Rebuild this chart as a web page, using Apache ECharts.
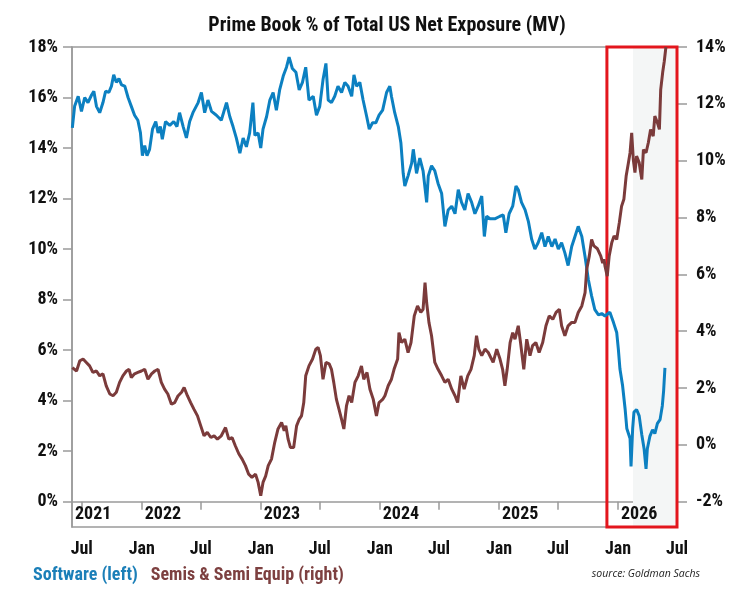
<!DOCTYPE html>
<html lang="en">
<head>
  <meta charset="utf-8">
  <title>Prime Book % of Total US Net Exposure (MV)</title>
  <script src="https://cdn.jsdelivr.net/npm/echarts@6/dist/echarts.min.js"></script>
  <style>
    * { margin: 0; padding: 0; }
    html, body { background: #fff; }
    #chart { width: 744px; height: 590px; overflow: hidden; }
  </style>
</head>
<body>
<div id="chart"></div>
<script>
  // Software (left axis, %)
  var swDates = [
    '2021-06-02','2021-06-09','2021-06-20','2021-06-30','2021-07-10','2021-07-20','2021-07-31','2021-08-07','2021-08-15','2021-08-25',
    '2021-09-04','2021-09-12','2021-09-22','2021-09-30','2021-10-07','2021-10-15','2021-10-23','2021-10-31','2021-11-10','2021-11-20',
    '2021-11-30','2021-12-10','2021-12-20','2021-12-28','2022-01-03','2022-01-10','2022-01-17','2022-01-25','2022-02-03','2022-02-13',
    '2022-02-20','2022-02-27','2022-03-05','2022-03-15','2022-03-28','2022-04-09','2022-04-19','2022-04-27','2022-05-08','2022-05-18',
    '2022-05-28','2022-06-07','2022-06-23','2022-07-03','2022-07-13','2022-07-23','2022-08-03','2022-08-18','2022-09-02','2022-09-18',
    '2022-09-28','2022-10-08','2022-10-18','2022-10-29','2022-11-08','2022-11-18','2022-11-28','2022-12-08','2022-12-14','2022-12-24',
    '2023-01-01','2023-01-08','2023-01-19','2023-01-29','2023-02-08','2023-02-18','2023-02-28','2023-03-11','2023-03-21','2023-03-29',
    '2023-04-08','2023-04-19','2023-04-29','2023-05-09','2023-05-19','2023-05-29','2023-06-11','2023-06-21','2023-07-01','2023-07-11',
    '2023-07-20','2023-07-27','2023-08-06','2023-08-16','2023-08-26','2023-09-06','2023-09-16','2023-09-26','2023-10-07','2023-10-14',
    '2023-10-22','2023-11-01','2023-11-11','2023-11-22','2023-11-30','2023-12-10','2023-12-20','2023-12-30','2024-01-10','2024-01-22',
    '2024-02-01','2024-02-06','2024-02-16','2024-02-27','2024-03-06','2024-03-13','2024-03-18','2024-03-28','2024-04-08','2024-04-13',
    '2024-04-23','2024-05-03','2024-05-13','2024-05-24','2024-05-29','2024-06-08','2024-06-18','2024-06-28','2024-07-09','2024-07-19',
    '2024-07-29','2024-08-09','2024-08-19','2024-08-29','2024-09-08','2024-09-18','2024-09-28','2024-10-09','2024-10-19','2024-10-29',
    '2024-11-09','2024-11-17','2024-11-24','2024-12-04','2024-12-19','2025-01-04','2025-01-14','2025-01-22','2025-02-01','2025-02-12',
    '2025-02-22','2025-03-01','2025-03-11','2025-03-22','2025-04-01','2025-04-11','2025-04-21','2025-05-01','2025-05-12','2025-05-22',
    '2025-06-01','2025-06-12','2025-06-22','2025-07-02','2025-07-12','2025-07-22','2025-08-01','2025-08-12','2025-08-22','2025-09-01',
    '2025-09-12','2025-09-22','2025-10-02','2025-10-12','2025-10-22','2025-11-02','2025-11-12','2025-11-22','2025-11-27','2025-12-07',
    '2025-12-18','2025-12-28','2026-01-02','2026-01-07','2026-01-15','2026-01-23','2026-01-28','2026-02-02','2026-02-07','2026-02-10',
    '2026-02-15','2026-02-19','2026-02-27','2026-03-07','2026-03-15','2026-03-22','2026-03-28','2026-04-01','2026-04-09','2026-04-17',
    '2026-04-24','2026-05-02','2026-05-10','2026-05-17','2026-05-21','2026-05-25'
  ];
  var swValues = [
    14.8, 15.65, 16.05, 15.45, 16.0, 15.8, 16.1, 16.25, 15.65, 15.4,
    15.8, 16.25, 16.2, 16.45, 16.9, 16.6, 16.75, 16.5, 16.45, 16.0,
    15.65, 15.3, 15.1, 14.6, 13.7, 14.1, 13.7, 13.95, 14.75, 15.05,
    14.6, 14.85, 14.35, 15.05, 14.9, 15.05, 14.85, 15.4, 14.85, 14.4,
    15.05, 15.4, 15.8, 16.2, 15.4, 15.9, 15.45, 15.3, 15.1, 15.8,
    15.25, 14.85, 14.4, 13.8, 14.4, 14.05, 14.6, 15.8, 14.5, 14.6,
    14.0, 14.75, 15.25, 15.9, 16.2, 15.5, 16.3, 16.85, 17.2, 17.6,
    17.15, 17.0, 16.3, 16.6, 17.2, 15.9, 16.05, 15.3, 15.65, 16.7,
    17.35, 15.9, 15.8, 16.05, 16.45, 16.2, 16.6, 16.45, 16.05, 16.9,
    16.45, 16.6, 15.9, 15.25, 14.75, 15.0, 15.0, 15.3, 15.5, 16.2,
    16.45, 16.05, 15.4, 14.85, 14.2, 13.0, 12.5, 12.9, 13.4, 13.95,
    13.0, 13.6, 13.1, 11.85, 12.9, 13.3, 13.1, 12.6, 12.2, 10.9,
    11.55, 11.7, 11.4, 12.35, 11.85, 11.55, 12.2, 11.85, 11.4, 11.7,
    12.1, 10.5, 11.3, 11.2, 11.2, 11.3, 11.35, 10.65, 11.4, 11.7,
    12.5, 12.35, 11.85, 11.55, 11.1, 10.4, 10.0, 10.25, 10.65, 10.1,
    10.5, 10.1, 10.4, 10.0, 10.25, 9.85, 9.35, 10.1, 10.5, 10.9,
    10.5, 9.7, 8.8, 8.15, 7.6, 7.4, 7.45, 7.35, 7.3, 7.5,
    7.1, 6.7, 6.05, 5.25, 4.6, 3.65, 2.9, 2.95, 2.5, 1.4,
    2.9, 3.55, 3.65, 3.4, 2.65, 2.1, 1.3, 2.1, 2.6, 2.85,
    2.7, 3.1, 3.25, 3.8, 4.4, 5.3
  ];

  // Semis & Semi Equip (right axis, %)
  var semiDates = [
    '2021-06-02','2021-06-15','2021-06-25','2021-07-05','2021-07-15','2021-07-25','2021-08-04','2021-08-15','2021-08-25','2021-09-04',
    '2021-09-14','2021-09-25','2021-10-05','2021-10-15','2021-10-25','2021-11-04','2021-11-15','2021-11-23','2021-11-30','2021-12-10',
    '2021-12-20','2021-12-31','2022-01-10','2022-01-20','2022-01-31','2022-02-10','2022-02-20','2022-03-02','2022-03-12','2022-03-22',
    '2022-04-02','2022-04-12','2022-04-22','2022-05-03','2022-05-11','2022-05-21','2022-05-31','2022-06-10','2022-06-21','2022-07-01',
    '2022-07-11','2022-07-21','2022-08-01','2022-08-11','2022-08-21','2022-09-02','2022-09-15','2022-09-25','2022-10-05','2022-10-15',
    '2022-10-26','2022-11-05','2022-11-15','2022-11-25','2022-12-05','2022-12-16','2022-12-24','2023-01-01','2023-01-08','2023-01-16',
    '2023-01-24','2023-02-03','2023-02-13','2023-02-23','2023-03-06','2023-03-14','2023-03-19','2023-03-26','2023-04-02','2023-04-12',
    '2023-04-21','2023-04-29','2023-05-06','2023-05-13','2023-05-19','2023-05-29','2023-06-09','2023-06-19','2023-06-26','2023-07-03',
    '2023-07-11','2023-07-20','2023-07-30','2023-08-06','2023-08-13','2023-08-21','2023-08-29','2023-09-06','2023-09-13','2023-09-21',
    '2023-09-29','2023-10-07','2023-10-17','2023-10-27','2023-11-06','2023-11-13','2023-11-23','2023-12-02','2023-12-12','2023-12-22',
    '2023-12-30','2024-01-10','2024-01-17','2024-01-27','2024-02-06','2024-02-14','2024-02-25','2024-02-29','2024-03-08','2024-03-18',
    '2024-03-28','2024-04-06','2024-04-16','2024-04-26','2024-05-06','2024-05-13','2024-05-19','2024-05-24','2024-05-31','2024-06-08',
    '2024-06-18','2024-06-28','2024-07-09','2024-07-19','2024-07-29','2024-08-09','2024-08-19','2024-08-27','2024-09-06','2024-09-16',
    '2024-09-27','2024-10-07','2024-10-17','2024-10-24','2024-10-31','2024-11-09','2024-11-19','2024-11-29','2024-12-09','2024-12-14',
    '2024-12-25','2025-01-04','2025-01-12','2025-01-19','2025-01-26','2025-02-04','2025-02-12','2025-02-19','2025-03-01','2025-03-08',
    '2025-03-18','2025-03-27','2025-04-06','2025-04-14','2025-04-24','2025-05-04','2025-05-15','2025-05-25','2025-06-04','2025-06-15',
    '2025-06-25','2025-07-05','2025-07-12','2025-07-22','2025-08-01','2025-08-12','2025-08-22','2025-09-01','2025-09-12','2025-09-22',
    '2025-09-27','2025-10-05','2025-10-12','2025-10-19','2025-10-30','2025-11-09','2025-11-15','2025-11-19','2025-11-22','2025-11-29',
    '2025-12-05','2025-12-13','2025-12-20','2025-12-28','2026-01-05','2026-01-12','2026-01-19','2026-01-26','2026-02-02','2026-02-07',
    '2026-02-12','2026-02-17','2026-02-22','2026-02-27','2026-03-07','2026-03-15','2026-03-20','2026-03-28','2026-04-04','2026-04-11',
    '2026-04-19','2026-04-24','2026-05-02','2026-05-08','2026-05-12','2026-05-18','2026-05-23','2026-05-28'
  ];
  var semiValues = [
    2.72, 2.6, 2.96, 3.02, 2.9, 2.78, 2.55, 2.6, 2.43, 2.5,
    2.08, 1.79, 1.73, 1.85, 2.2, 2.43, 2.6, 2.66, 2.37, 2.5,
    2.55, 2.6, 2.66, 2.31, 2.5, 2.6, 2.66, 2.2, 1.96, 1.79,
    1.43, 1.49, 1.72, 1.85, 2.02, 1.73, 1.49, 1.26, 1.02, 0.67,
    0.32, 0.44, 0.26, 0.32, 0.2, 0.32, 0.61, 0.2, 0.26, -0.03,
    -0.32, -0.5, -0.73, -1.03, -1.14, -1.03, -1.32, -1.79, -1.32, -1.1,
    -0.73, -0.5, 0.09, 0.56, 0.79, 0.5, 0.67, 0.2, -0.09, -0.09,
    0.67, 0.9, 1.02, 1.49, 2.43, 2.78, 3.02, 3.37, 3.43, 3.14,
    2.31, 2.9, 2.85, 2.66, 2.2, 1.61, 1.26, 0.9, 0.56, 1.37,
    1.73, 1.49, 2.2, 2.43, 2.78, 2.31, 2.55, 1.96, 1.61, 1.02,
    1.49, 1.6, 1.73, 2.08, 2.31, 2.66, 3.02, 3.95, 3.6, 3.72,
    3.25, 3.6, 4.54, 4.89, 4.66, 4.77, 5.71, 5.0, 4.31, 3.84,
    2.9, 2.66, 2.43, 2.2, 2.31, 1.96, 1.73, 1.49, 2.43, 1.96,
    2.43, 2.66, 3.14, 3.84, 3.37, 3.14, 3.37, 3.25, 3.02, 2.9,
    3.37, 3.02, 2.66, 2.08, 2.66, 3.6, 3.95, 3.72, 4.19, 3.6,
    2.66, 3.72, 3.14, 3.49, 3.6, 3.25, 3.6, 4.19, 4.54, 4.42,
    4.66, 4.77, 4.19, 3.84, 4.19, 4.31, 4.31, 4.66, 4.89, 5.36,
    6.18, 6.65, 7.23, 7.0, 6.9, 6.65, 6.4, 6.53, 6.3, 5.94,
    6.65, 7.12, 7.35, 7.23, 7.82, 8.4, 8.64, 9.46, 9.93, 10.28,
    10.98, 10.04, 9.58, 10.16, 9.93, 9.34, 10.39, 10.28, 10.63, 11.1,
    10.86, 11.57, 11.33, 11.1, 12.5, 13.1, 13.5, 14.0
  ];

  var xRange = ['2021-06-01', '2026-07-01'];
  var monthTicks = ['2021-07-01','2022-01-01','2022-07-01','2023-01-01','2023-07-01','2024-01-01',
                    '2024-07-01','2025-01-01','2025-07-01','2026-01-01','2026-07-01'];
  var yearLabels = ['2021-06-01','2022-01-01','2023-01-01','2024-01-01','2025-01-01','2026-01-01'];
  var leftTicks = [0, 2, 4, 6, 8, 10, 12, 14, 16, 18];
  var rightTicks = [-2, 0, 2, 4, 6, 8, 10, 12, 14];
  var highlightBox = ['2025-11-28', '2026-07-01'];
  var shadedSpan = ['2026-02-16', '2026-07-01'];

  var BLUE = '#0c80c1';
  var BROWN = '#7b3b3b';
  var AXIS = '#9a9a9a';
  var FONT = "'Roboto Condensed', 'Liberation Sans Narrow', Roboto, sans-serif";

  function ts(s) { return new Date(s + 'T00:00:00').getTime(); }
  function pairs(dates, values) {
    return dates.map(function (d, i) { return [ts(d), values[i]]; });
  }

  // left axis runs -1..18, right axis is aligned so that 0% left = -2% right and 18% = 14%
  var leftMin = -1, leftMax = 18;
  var rightMax = 14, rightMin = -2 - (rightMax + 2) / 18 * 1;

  var labelStyle = { color: '#111', fontFamily: FONT, fontWeight: 'bold', fontSize: 18 };
  var axisLineStyle = { color: AXIS, width: 1.5 };

  // dates are plotted as timestamps on a value axis so tick positions can be given explicitly
  var option = {
    animation: false,
    backgroundColor: '#fff',
    title: {
      text: 'Prime Book % of Total US Net Exposure (MV)',
      left: 382,
      top: 11,
      textAlign: 'center',
      textStyle: { color: '#111', fontFamily: FONT, fontWeight: 'bold', fontSize: 20 }
    },
    legend: {
      left: 23,
      top: 561,
      icon: 'none',
      itemWidth: 0,
      itemGap: 8,
      selectedMode: false,
      textStyle: { fontFamily: FONT, fontWeight: 'bold', fontSize: 18 },
      data: [
        { name: 'Software (left)', textStyle: { color: '#1b7fb8' } },
        { name: 'Semis & Semi Equip (right)', textStyle: { color: '#7d4040' } }
      ]
    },
    graphic: [{
      type: 'text',
      right: 44,
      top: 569,
      style: { text: 'source: Goldman Sachs', font: 'italic 10.5px "Open Sans"', fill: '#222' }
    }],
    grid: {
      left: 72, right: 67, top: 47, bottom: 63,
      show: true, borderColor: AXIS, borderWidth: 1.5
    },
    xAxis: [{
      type: 'value',
      position: 'bottom',
      min: ts(xRange[0]),
      max: ts(xRange[1]),
      splitLine: { show: false },
      axisLine: { lineStyle: axisLineStyle },
      axisTick: { show: true, length: 8, customValues: monthTicks.map(ts), lineStyle: axisLineStyle },
      axisLabel: Object.assign({
        customValues: monthTicks.map(ts),
        margin: 13,
        formatter: function (v) { return new Date(v).getMonth() === 0 ? 'Jan' : 'Jul'; }
      }, labelStyle)
    }, {
      type: 'value',
      position: 'bottom',
      z: 10,
      min: ts(xRange[0]),
      max: ts(xRange[1]),
      splitLine: { show: false },
      axisLine: { show: false },
      axisTick: { show: false },
      axisLabel: Object.assign({
        inside: true,
        customValues: yearLabels.map(ts),
        align: 'left',
        margin: 4,
        padding: [0, 0, 0, 3],
        formatter: function (v) { return String(new Date(v).getFullYear()); }
      }, labelStyle)
    }],
    yAxis: [{
      type: 'value',
      position: 'left',
      min: leftMin,
      max: leftMax,
      splitLine: { show: false },
      axisLine: { show: true, lineStyle: axisLineStyle },
      axisTick: { show: true, length: 9, customValues: leftTicks, lineStyle: axisLineStyle },
      axisLabel: Object.assign({ customValues: leftTicks, margin: 14, formatter: '{value}%' }, labelStyle)
    }, {
      type: 'value',
      position: 'right',
      min: rightMin,
      max: rightMax,
      splitLine: { show: false },
      axisLine: { show: true, lineStyle: axisLineStyle },
      axisTick: { show: true, length: 10, customValues: rightTicks, lineStyle: axisLineStyle },
      axisLabel: Object.assign({ customValues: rightTicks, margin: 19, formatter: '{value}%' }, labelStyle)
    }],
    series: [{
      name: 'Software (left)',
      type: 'line',
      xAxisIndex: 0,
      yAxisIndex: 0,
      data: pairs(swDates, swValues),
      showSymbol: false,
      clip: false,
      lineStyle: { color: BLUE, width: 3 },
      itemStyle: { color: BLUE },
      markArea: {
        silent: true,
        data: [
          [{ xAxis: ts(shadedSpan[0]), itemStyle: { color: '#f4f6f6', opacity: 1 } }, { xAxis: ts(shadedSpan[1]) }],
          [{ xAxis: ts(highlightBox[0]), itemStyle: { color: 'rgba(0,0,0,0)', borderColor: '#e3161d', borderWidth: 3, opacity: 1 } },
           { xAxis: ts(highlightBox[1]) }]
        ]
      }
    }, {
      name: 'Semis & Semi Equip (right)',
      type: 'line',
      xAxisIndex: 0,
      yAxisIndex: 1,
      data: pairs(semiDates, semiValues),
      showSymbol: false,
      lineStyle: { color: BROWN, width: 3 },
      itemStyle: { color: BROWN }
    }]
  };

  var chart = echarts.init(document.getElementById('chart'));
  chart.setOption(option);
</script>
</body>
</html>
